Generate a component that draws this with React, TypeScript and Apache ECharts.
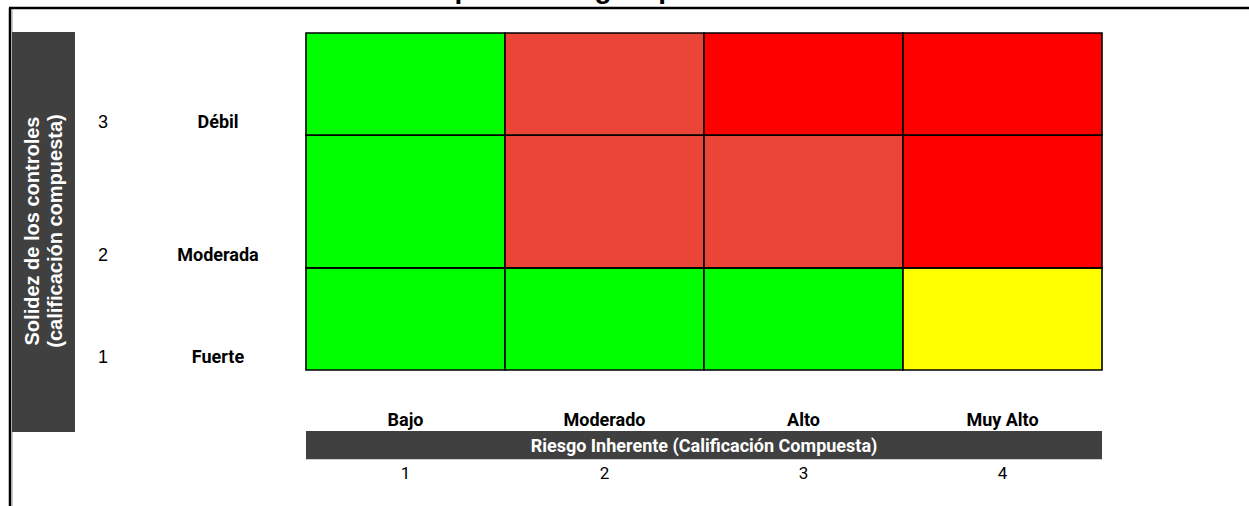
import React, { useEffect, useRef } from "react";
import * as echarts from "echarts";

const titleText = "Mapa de Riesgo Operacional Neto";
const columns = ["Bajo", "Moderado", "Alto", "Muy Alto"];
const columnScores = ["1", "2", "3", "4"];
const xAxisTitle = "Riesgo Inherente (Calificación Compuesta)";
const rowLabels = ["Fuerte", "Moderada", "Débil"];
const rowScores = ["1", "2", "3"];
const yAxisTitle = "Solidez de los controles\n(calificación compuesta)";
// row boundaries on the y scale (bottom to top); middle row is taller
const rowEdges = [0, 1, 2.3, 3.3];
// risk level per cell, rows bottom (Fuerte) to top (Débil), columns Bajo..Muy Alto
const riskLevels: number[][] = [
  [1, 1, 1, 2],
  [1, 3, 3, 4],
  [1, 3, 4, 4],
];

const NARROW = "Roboto, 'Liberation Sans', sans-serif";
const ARIAL = "'Liberation Sans', Arial, sans-serif";

export default function App() {
  const ref = useRef<HTMLDivElement>(null);
  useEffect(() => {
    if (!ref.current) return;
    const chart = echarts.init(ref.current, undefined, { renderer: "svg" });
    const levelColors: Record<number, string> = {
      1: "#00FF00",
      2: "#FFFF00",
      3: "#EB4537",
      4: "#FF0000",
    };
    const cells: number[][] = [];
    riskLevels.forEach((row, r) =>
      row.forEach((lvl, c) => cells.push([c, r, lvl]))
    );
    const labelLift = 0.13;
    const labelValues = rowEdges.slice(0, 3).map((e) => e + labelLift);

    chart.setOption({
      animation: false,
      backgroundColor: "#ffffff",
      grid: { left: 306, top: 33, width: 796, height: 337, containLabel: false },
      xAxis: [
        {
          type: "category",
          data: columns,
          position: "bottom",
          axisLine: { show: false },
          axisTick: { show: false },
          splitLine: { show: false },
          axisLabel: {
            margin: 40,
            color: "#000",
            fontWeight: "bold",
            fontSize: 18,
            fontFamily: NARROW,
          },
        },
        {
          type: "category",
          data: columnScores,
          position: "bottom",
          offset: 94,
          axisLine: { show: false },
          axisTick: { show: false },
          splitLine: { show: false },
          axisLabel: {
            margin: 0,
            color: "#000",
            fontSize: 17,
            fontFamily: NARROW,
          },
        },
      ],
      yAxis: {
        type: "value",
        min: 0,
        max: rowEdges[rowEdges.length - 1],
        axisLine: { show: false },
        axisTick: { show: false },
        splitLine: { show: false },
        axisLabel: {
          customValues: labelValues,
          margin: 28,
          formatter: (v: number) => {
            const i = labelValues.findIndex((lv) => Math.abs(lv - v) < 0.01);
            if (i < 0) return "";
            return `{n|${rowScores[i]}}{b|${rowLabels[i]}}`;
          },
          rich: {
            n: {
              width: 60,
              align: "left",
              fontSize: 18,
              fontFamily: ARIAL,
              color: "#000",
            },
            b: {
              width: 120,
              align: "center",
              fontSize: 18,
              fontWeight: "bold",
              fontFamily: NARROW,
              color: "#000",
            },
          },
        },
      },
      series: [
        {
          type: "custom",
          xAxisIndex: 0,
          yAxisIndex: 0,
          encode: { x: 0, y: 1 },
          data: cells,
          renderItem: (params: any, api: any) => {
            const col = api.value(0);
            const row = api.value(1);
            const lvl = api.value(2);
            const bottom = api.coord([col, rowEdges[row]]);
            const top = api.coord([col, rowEdges[row + 1]]);
            const w = api.size([1, 0])[0];
            return {
              type: "rect",
              shape: {
                x: bottom[0] - w / 2,
                y: top[1],
                width: w,
                height: bottom[1] - top[1],
              },
              style: { fill: levelColors[lvl], stroke: "#000", lineWidth: 1.6 },
            };
          },
        },
      ],
      graphic: [
        {
          type: "text",
          x: 642,
          y: 2,
          style: {
            text: titleText,
            align: "center",
            verticalAlign: "bottom",
            font: `bold 28px ${ARIAL}`,
            fill: "#000",
          },
        },
        {
          type: "line",
          shape: { x1: 9, y1: 8, x2: 1249, y2: 8 },
          style: { stroke: "#000", lineWidth: 2.5 },
        },
        {
          type: "line",
          shape: { x1: 10, y1: 8, x2: 10, y2: 506 },
          style: { stroke: "#000", lineWidth: 2.5 },
        },
        {
          type: "line",
          shape: { x1: 12, y1: 9, x2: 12, y2: 506 },
          style: { stroke: "#9a9a9a", lineWidth: 1 },
        },
        {
          type: "rect",
          shape: { x: 12, y: 32, width: 63, height: 400 },
          style: { fill: "#404040" },
        },
        {
          type: "text",
          x: 43,
          y: 231,
          rotation: Math.PI / 2,
          style: {
            text: yAxisTitle,
            align: "center",
            verticalAlign: "middle",
            font: `bold 20px ${ARIAL}`,
            lineHeight: 23,
            fill: "#ffffff",
          },
        },
        {
          type: "rect",
          shape: { x: 306, y: 431, width: 796, height: 28 },
          style: { fill: "#404040" },
        },
        {
          type: "line",
          shape: { x1: 306, y1: 459.5, x2: 1102, y2: 459.5 },
          style: { stroke: "#d0d0d0", lineWidth: 1 },
        },
        {
          type: "text",
          x: 704,
          y: 445,
          style: {
            text: xAxisTitle,
            align: "center",
            verticalAlign: "middle",
            font: `bold 18px ${NARROW}`,
            fill: "#ffffff",
          },
        },
      ],
    });
    return () => chart.dispose();
  }, []);
  return (
    <div
      ref={ref}
      style={{ position: "fixed", left: 0, top: 0, width: 1249, height: 506 }}
    />
  );
}
